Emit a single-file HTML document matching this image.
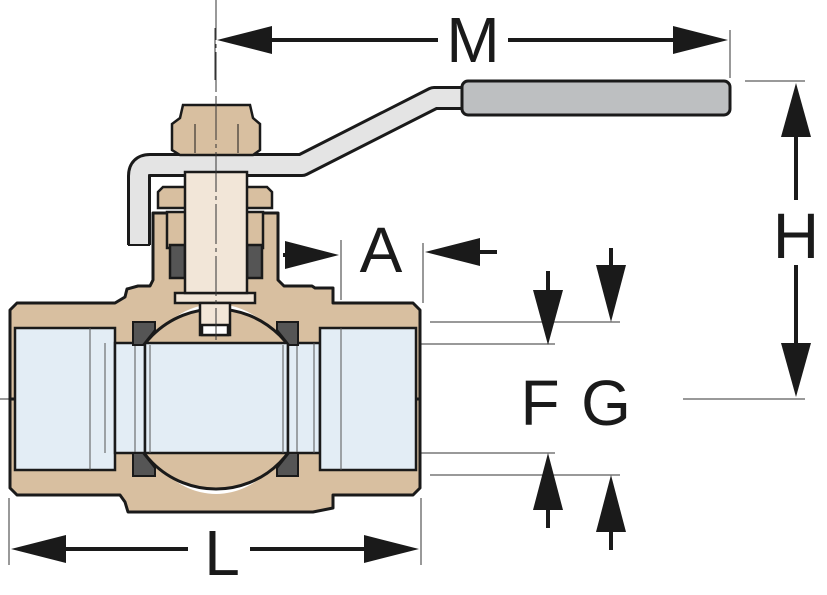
<!DOCTYPE html>
<html><head><meta charset="utf-8"><style>html,body{margin:0;padding:0;background:#fff}svg{display:block}</style></head>
<body>
<svg width="827" height="595" viewBox="0 0 827 595" xmlns="http://www.w3.org/2000/svg" font-family="'Liberation Sans', 'DejaVu Sans', sans-serif">
<defs>
<marker id="a" viewBox="0 0 10 10" refX="10" refY="5" markerWidth="1" markerHeight="1" orient="auto"/>
</defs>
<!-- thin lines -->
<g stroke="#333" stroke-width="1" fill="none">
<line x1="216" y1="0" x2="216" y2="338" stroke-dasharray="40 4 4 4"/>
<line x1="0" y1="399" x2="420" y2="399" stroke-dasharray="40 4 4 4"/>
<line x1="215" y1="28" x2="215" y2="80"/>
<line x1="730" y1="30" x2="730" y2="78"/>
<line x1="745" y1="81" x2="805" y2="81"/>
<line x1="683" y1="399" x2="805" y2="399"/>
<line x1="341" y1="240" x2="341" y2="300"/>
<line x1="423" y1="243" x2="423" y2="303"/>
<line x1="335" y1="344" x2="555" y2="344"/>
<line x1="335" y1="453" x2="555" y2="453"/>
<line x1="430" y1="322" x2="620" y2="322"/>
<line x1="430" y1="475" x2="620" y2="475"/>
<line x1="9" y1="498" x2="9" y2="565"/>
<line x1="421" y1="498" x2="421" y2="565"/>
</g>
<!-- dimension arrows -->
<g fill="#1a1a1a" stroke="#1a1a1a">
<line x1="265" y1="40" x2="438" y2="40" stroke-width="4"/>
<line x1="508" y1="40" x2="680" y2="40" stroke-width="4"/>
<polygon points="217,40 272,26 272,54" stroke="none"/>
<polygon points="728,40 673,26 673,54" stroke="none"/>
<line x1="796" y1="130" x2="796" y2="200" stroke-width="4"/>
<line x1="796" y1="265" x2="796" y2="350" stroke-width="4"/>
<polygon points="796,83 781,137 811,137" stroke="none"/>
<polygon points="796,397 781,343 811,343" stroke="none"/>
<line x1="283" y1="255" x2="300" y2="255" stroke-width="4"/>
<polygon points="339,255 285,241 285,269" stroke="none"/>
<line x1="480" y1="252" x2="497" y2="252" stroke-width="4"/>
<polygon points="425,252 480,238 480,266" stroke="none"/>
<line x1="548" y1="271" x2="548" y2="295" stroke-width="4"/>
<polygon points="548,345 533,290 563,290" stroke="none"/>
<line x1="611" y1="248" x2="611" y2="270" stroke-width="4"/>
<polygon points="611,322 596,265 626,265" stroke="none"/>
<line x1="548" y1="505" x2="548" y2="528" stroke-width="4"/>
<polygon points="548,453 533,510 563,510" stroke="none"/>
<line x1="611" y1="528" x2="611" y2="550" stroke-width="4"/>
<polygon points="611,475 596,532 626,532" stroke="none"/>
<line x1="60" y1="549" x2="188" y2="549" stroke-width="4"/>
<line x1="250" y1="549" x2="370" y2="549" stroke-width="4"/>
<polygon points="11,549 66,535 66,563" stroke="none"/>
<polygon points="419,549 364,535 364,563" stroke="none"/>
</g>
<g fill="#1a1a1a" font-size="64">
<text x="473" y="62" text-anchor="middle">M</text>
<text x="796" y="258" text-anchor="middle">H</text>
<text x="381" y="272" text-anchor="middle">A</text>
<text x="540" y="425" text-anchor="middle">F</text>
<text x="606" y="425" text-anchor="middle">G</text>
<text x="222" y="575" text-anchor="middle">L</text>
</g>
<!-- handle -->
<path d="M139,245 L139,176 Q139,165 150,165 L302,165 L434,98 L465,98" fill="none" stroke="#1a1a1a" stroke-width="24" stroke-linejoin="round"/>
<path d="M139,247 L139,176 Q139,165 150,165 L302,165 L434,98 L468,98" fill="none" stroke="#e4e4e4" stroke-width="18" stroke-linejoin="round"/>
<rect x="125" y="245" width="28" height="10" fill="#fff"/>
<path d="M128,245 L150,245" stroke="#1a1a1a" stroke-width="2"/>
<rect x="462" y="81" width="268" height="34" rx="6" fill="#bdbfc1" stroke="#1a1a1a" stroke-width="3"/>
<!-- body top -->
<g stroke="#1a1a1a" stroke-width="3" stroke-linejoin="round">
<path d="M10,399 L10,310 L17,303 L115,303 L125,297 L127,289 L138,286 L150,286 L153,280 L153,213 L278,213 L278,280 L284,286 L312,286 L315,288 L333,288 L333,303 L413,303 L420,310 L420,399 Z" fill="#d8bfa0"/>
<path d="M10,399 L10,488 L17,495 L120,495 L125,502 L128,512 L313,512 L333,508 L333,495 L413,495 L420,488 L420,399 Z" fill="#d8bfa0"/>
</g>
<!-- white gap around ball -->
<ellipse cx="216" cy="399" rx="80" ry="95" fill="#fff"/>
<circle cx="216" cy="399" r="90" fill="#d8bfa0" stroke="#1a1a1a" stroke-width="3" clip-path="url(#bc)"/>
<clipPath id="bc"><rect x="145" y="300" width="143" height="200"/></clipPath>
<!-- bores -->
<g stroke="#1a1a1a" stroke-width="2.5" fill="#e3edf5">
<rect x="15" y="328" width="100" height="142"/>
<rect x="115" y="343" width="30" height="110"/>
<rect x="145" y="343" width="143" height="110"/>
<rect x="288" y="343" width="32" height="110"/>
<rect x="320" y="328" width="96" height="142"/>
</g>
<g stroke="#555" stroke-width="1">
<line x1="90" y1="328" x2="90" y2="470"/><line x1="105" y1="343" x2="105" y2="453"/>
<line x1="341" y1="328" x2="341" y2="470"/><line x1="314" y1="343" x2="314" y2="453"/>
<line x1="135" y1="345" x2="135" y2="453"/><line x1="150" y1="345" x2="150" y2="453"/>
<line x1="283" y1="345" x2="283" y2="453"/><line x1="297" y1="345" x2="297" y2="453"/>
</g>
<!-- seats -->
<g fill="#555" stroke="#1a1a1a" stroke-width="2">
<polygon points="133,322 155,322 155,330 143,345 133,345"/>
<polygon points="298,322 277,322 277,330 289,345 298,345"/>
<polygon points="133,476 155,476 155,468 143,453 133,453"/>
<polygon points="298,476 277,476 277,468 289,453 298,453"/>
</g>
<!-- bonnet internals -->
<g stroke="#1a1a1a" stroke-width="2.5">
<rect x="167" y="212" width="96" height="36" fill="#d8bfa0"/>
<rect x="170" y="245" width="15" height="33" fill="#555"/>
<rect x="247" y="245" width="15" height="33" fill="#555"/>
<path d="M158,192 L163,187 L267,187 L272,192 L272,208 L158,208 Z" fill="#d8bfa0"/>
<rect x="175" y="293" width="80" height="10" fill="#f2e6d8"/>
<rect x="200" y="303" width="30" height="32" fill="#f2e6d8"/>
<rect x="202" y="325" width="26" height="10" fill="#fff"/>
<rect x="185" y="172" width="62" height="121" fill="#f2e6d8"/>
<path d="M183,105 L250,105 L253,118 L260,124 L260,150 L253,155 L180,155 L172,150 L172,124 L180,118 Z" fill="#d8bfa0"/>
<line x1="195" y1="124" x2="195" y2="153" stroke-width="1"/>
<line x1="238" y1="124" x2="238" y2="153" stroke-width="1"/>
</g>
<line x1="216" y1="100" x2="216" y2="340" stroke="#333" stroke-width="1" stroke-dasharray="40 4 4 4"/>
</svg>
</body></html>
